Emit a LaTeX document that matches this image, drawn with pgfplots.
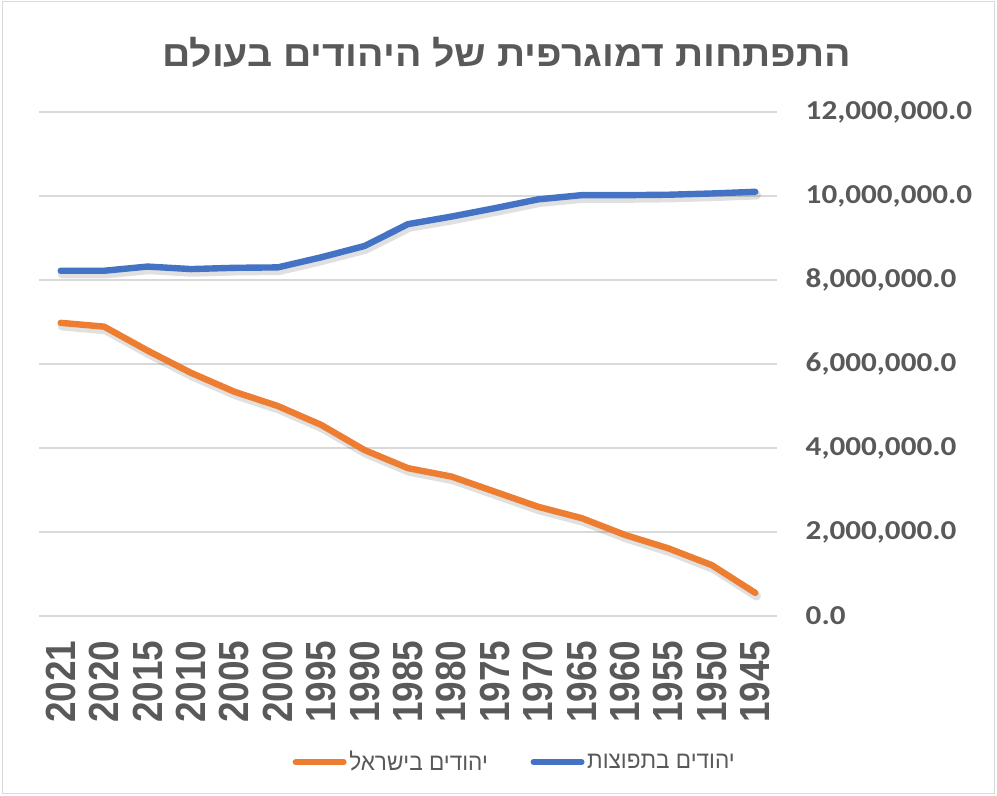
\documentclass[border=0pt]{standalone}
\usepackage{fontspec}
\usepackage{graphicx}
\usepackage{pgfplots}
\usepackage{pgfplotstable}
\pgfplotsset{compat=1.18}
\TeXXeTstate=1
\setmainfont{Liberation Sans}
\newfontfamily\titlefont[Script=Hebrew, FakeStretch=1.09]{Liberation Sans}
\newfontfamily\hebfont[Script=Hebrew, FakeStretch=0.94]{Liberation Sans}
\newfontfamily\numfont[FakeStretch=1.14]{Carlito}
\newcommand\yl[1]{\scalebox{1}[1.14]{#1}}
\definecolor{txtgray}{HTML}{595959}
\definecolor{gridgray}{HTML}{D9D9D9}
\definecolor{xlblue}{HTML}{4472C4}
\definecolor{xlorange}{HTML}{ED7D31}

% Jewish population, Israel vs diaspora
\pgfplotstableread{
idx year israel diaspora
0  2021 6980000 8220000
1  2020 6890000 8220000
2  2015 6320000 8320000
3  2010 5790000 8260000
4  2005 5340000 8290000
5  2000 5000000 8300000
6  1995 4550000 8540000
7  1990 3950000 8810000
8  1985 3520000 9330000
9  1980 3320000 9510000
10 1975 2960000 9710000
11 1970 2600000 9920000
12 1965 2330000 10020000
13 1960 1930000 10020000
14 1955 1610000 10030000
15 1950 1210000 10060000
16 1945 550000  10100000
}\jews

\begin{document}
\begin{tikzpicture}
\path[use as bounding box] (0,0) rectangle (747.75pt,597pt);
\draw[gridgray, line width=0.75pt] (2pt,2pt) rectangle (745.5pt,595.5pt);
\node[anchor=base, text=txtgray, font=\titlefont\bfseries\fontsize{27}{31}\selectfont]
  at (380pt,546.75pt) {\beginR התפתחות דמוגרפית של היהודים בעולם\endR};
\begin{axis}[
    at={(29.25pt,135pt)}, anchor=south west,
    scale only axis,
    width=553.5pt, height=378pt,
    xmin=-0.5, xmax=16.5,
    ymin=0, ymax=12000000,
    ytick={0,2000000,4000000,6000000,8000000,10000000,12000000},
    xtick={0,...,16},
    xticklabels={\yl{2021},\yl{2020},\yl{2015},\yl{2010},\yl{2005},\yl{2000},\yl{1995},\yl{1990},\yl{1985},\yl{1980},\yl{1975},\yl{1970},\yl{1965},\yl{1960},\yl{1955},\yl{1950},\yl{1945}},
    scaled y ticks=false,
    axis line style={draw=none},
    major tick length=0pt,
    ymajorgrids,
    grid style={gridgray, line width=1.1pt},
    yticklabel pos=right,
    /pgf/number format/assume math mode=true,
    yticklabel={\pgfmathprintnumber[fixed, fixed zerofill, precision=1, 1000 sep={,}]{\tick}},
    yticklabel style={anchor=west, text=txtgray, font=\numfont\bfseries\fontsize{20.5}{24}\selectfont},
    yticklabel shift=18pt,
    xticklabel style={rotate=90, anchor=east, text=txtgray, font=\bfseries\fontsize{27.7}{30}\selectfont},
    xticklabel shift=15pt,
    legend columns=2,
    legend image code/.code={\draw[#1, line width=4.5pt, line cap=round] (0pt,0pt) -- (36pt,0pt);},
    legend style={
        at={(0.645,-0.29)}, anchor=center,
        draw=none, fill=none,
        font=\hebfont\fontsize{18}{21}\selectfont, text=txtgray,
        /tikz/every even column/.append style={column sep=30pt}
    },
]
% soft shadows under the lines
\addplot[forget plot, black, opacity=0.12, line width=6.5pt, line join=round, line cap=round, xshift=1pt, yshift=-2.5pt]
  table[x=idx, y=israel] {\jews};
\addplot[forget plot, black, opacity=0.12, line width=6.5pt, line join=round, line cap=round, xshift=1pt, yshift=-2.5pt]
  table[x=idx, y=diaspora] {\jews};
\addplot[xlorange, line width=4.8pt, line join=round, line cap=round]
  table[x=idx, y=israel] {\jews};
\addlegendentry{\beginR יהודים בישראל\endR}
\addplot[xlblue, line width=4.8pt, line join=round, line cap=round]
  table[x=idx, y=diaspora] {\jews};
\addlegendentry{\beginR יהודים בתפוצות\endR}
\end{axis}
\end{tikzpicture}
\end{document}
